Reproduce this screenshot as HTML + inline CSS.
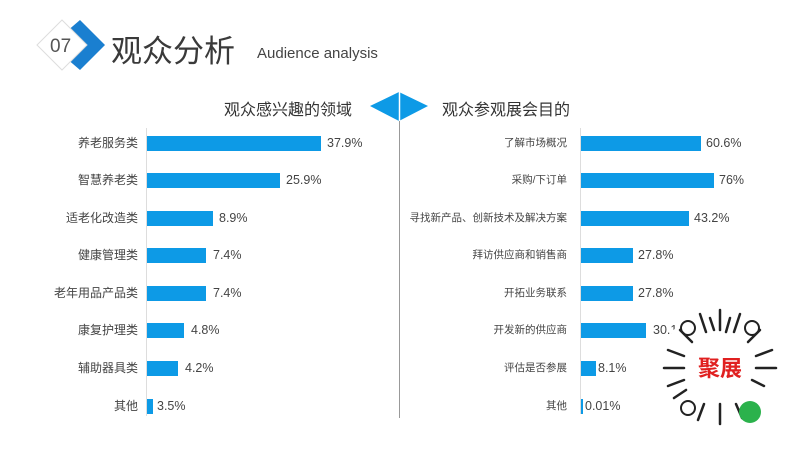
<!DOCTYPE html>
<html><head><meta charset="utf-8"><style>
body{margin:0;width:800px;height:449px;background:#fff;position:relative;overflow:hidden;font-family:"Liberation Sans","Noto Sans CJK SC",sans-serif;color:#444}
.a{position:absolute}
.bar{position:absolute;height:15px;background:#0d9ae6}
.ll{position:absolute;right:662px;font-size:12px;color:#444;white-space:nowrap;line-height:15px}
.rl{position:absolute;right:233px;font-size:10.5px;color:#444;white-space:nowrap;line-height:15px}
.v{position:absolute;font-size:12.5px;color:#444;line-height:15px;white-space:nowrap}
</style></head><body>
<svg class="a" style="left:0;top:0" width="800" height="449">
<polygon points="80,20 105,45 80,70 66,58 80,45 66,32" fill="#1a7fd0"/>
<polygon points="62,20 87,45 62,70 37,45" fill="#fff" stroke="#ddd" stroke-width="1"/>
<polygon points="399,92 428,106 399,121 370,106" fill="#0d9ae6"/>
<line x1="399.5" y1="92" x2="399.5" y2="121" stroke="#fff" stroke-width="1.5"/>
<line x1="399.5" y1="121" x2="399.5" y2="418" stroke="#999" stroke-width="1"/>
<line x1="146.5" y1="128" x2="146.5" y2="416" stroke="#ddd"/>
<line x1="580.5" y1="128" x2="580.5" y2="414" stroke="#ddd"/>
</svg>
<div class="a" style="left:50px;top:36px;font-size:19px;color:#555">07</div>
<div class="a" style="left:111px;top:26px;font-size:31px;font-weight:normal;color:#3a3a3a">观众分析</div>
<div class="a" style="left:257px;top:45px;font-size:15px;color:#444">Audience analysis</div>
<div class="a" style="left:224px;top:96px;font-size:16px;color:#333">观众感兴趣的领域</div>
<div class="a" style="left:442px;top:96px;font-size:16px;color:#333">观众参观展会目的</div>

<div class="ll" style="top:136px">养老服务类</div><div class="bar" style="left:147px;top:136px;width:174px"></div><div class="v" style="left:327px;top:136px">37.9%</div>
<div class="ll" style="top:173px">智慧养老类</div><div class="bar" style="left:147px;top:173px;width:133px"></div><div class="v" style="left:286px;top:173px">25.9%</div>
<div class="ll" style="top:211px">适老化改造类</div><div class="bar" style="left:147px;top:211px;width:66px"></div><div class="v" style="left:219px;top:211px">8.9%</div>
<div class="ll" style="top:248px">健康管理类</div><div class="bar" style="left:147px;top:248px;width:59px"></div><div class="v" style="left:213px;top:248px">7.4%</div>
<div class="ll" style="top:286px">老年用品产品类</div><div class="bar" style="left:147px;top:286px;width:59px"></div><div class="v" style="left:213px;top:286px">7.4%</div>
<div class="ll" style="top:323px">康复护理类</div><div class="bar" style="left:147px;top:323px;width:37px"></div><div class="v" style="left:191px;top:323px">4.8%</div>
<div class="ll" style="top:361px">辅助器具类</div><div class="bar" style="left:147px;top:361px;width:31px"></div><div class="v" style="left:185px;top:361px">4.2%</div>
<div class="ll" style="top:399px">其他</div><div class="bar" style="left:147px;top:399px;width:6px"></div><div class="v" style="left:157px;top:399px">3.5%</div>

<div class="rl" style="top:136px">了解市场概况</div><div class="bar" style="left:581px;top:136px;width:120px"></div><div class="v" style="left:706px;top:136px">60.6%</div>
<div class="rl" style="top:173px">采购/下订单</div><div class="bar" style="left:581px;top:173px;width:133px"></div><div class="v" style="left:719px;top:173px">76%</div>
<div class="rl" style="top:211px">寻找新产品、创新技术及解决方案</div><div class="bar" style="left:581px;top:211px;width:108px"></div><div class="v" style="left:694px;top:211px">43.2%</div>
<div class="rl" style="top:248px">拜访供应商和销售商</div><div class="bar" style="left:581px;top:248px;width:52px"></div><div class="v" style="left:638px;top:248px">27.8%</div>
<div class="rl" style="top:286px">开拓业务联系</div><div class="bar" style="left:581px;top:286px;width:52px"></div><div class="v" style="left:638px;top:286px">27.8%</div>
<div class="rl" style="top:323px">开发新的供应商</div><div class="bar" style="left:581px;top:323px;width:65px"></div><div class="v" style="left:653px;top:323px">30.1%</div>
<div class="rl" style="top:361px">评估是否参展</div><div class="bar" style="left:581px;top:361px;width:15px"></div><div class="v" style="left:598px;top:361px">8.1%</div>
<div class="rl" style="top:399px">其他</div><div class="bar" style="left:581px;top:399px;width:2px"></div><div class="v" style="left:585px;top:399px">0.01%</div>

<svg class="a" style="left:652px;top:302px" width="135" height="135">
<circle cx="68" cy="66" r="60" fill="#fff"/>
<g stroke="#222" stroke-width="2.5" stroke-linecap="round">
<line x1="68" y1="8" x2="68" y2="28"/><line x1="88" y1="12" x2="82" y2="30"/><line x1="48" y1="12" x2="54" y2="30"/>
<line x1="78" y1="16" x2="74" y2="30"/><line x1="58" y1="16" x2="62" y2="28"/>
<line x1="12" y1="66" x2="32" y2="66"/><line x1="104" y1="66" x2="124" y2="66"/><line x1="16" y1="84" x2="32" y2="78"/>
<line x1="120" y1="48" x2="104" y2="54"/><line x1="16" y1="48" x2="32" y2="54"/><line x1="68" y1="102" x2="68" y2="122"/>
<line x1="52" y1="102" x2="46" y2="118"/><line x1="84" y1="102" x2="90" y2="116"/><line x1="112" y1="84" x2="100" y2="78"/><line x1="108" y1="28" x2="96" y2="40"/>
<line x1="28" y1="28" x2="40" y2="40"/><line x1="22" y1="96" x2="34" y2="88"/>
</g>
<circle cx="36" cy="26" r="7" fill="none" stroke="#222" stroke-width="2"/>
<circle cx="100" cy="26" r="7" fill="none" stroke="#222" stroke-width="2"/>
<circle cx="36" cy="106" r="7" fill="none" stroke="#222" stroke-width="2"/>
<circle cx="98" cy="110" r="11" fill="#2bb24c"/>
<text x="68" y="74" font-size="22" font-weight="bold" fill="#e02020" text-anchor="middle" font-family="Noto Sans CJK SC,sans-serif">聚展</text>
</svg>
</body></html>
